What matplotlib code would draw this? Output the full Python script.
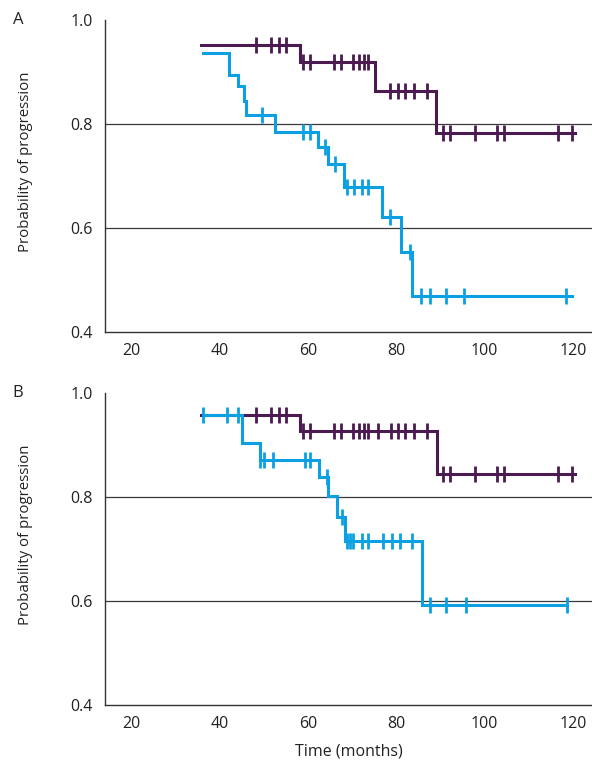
import matplotlib
matplotlib.use("Agg")
import matplotlib.pyplot as plt
import numpy as np

plt.rcParams['font.family'] = ['Open Sans', 'DejaVu Sans']

PURPLE = '#4a1a50'
BLUE = '#0aa0e2'
GRID = '#3a3a3a'

# Panel A - purple curve
a_purple_times = [35.9, 58.3, 75.1, 89.0]
a_purple_probs = [0.952, 0.920, 0.863, 0.782]
a_purple_censor = [48.3, 51.7, 53.4, 55.1, 59.0, 60.5, 66.0, 67.5, 70.3, 71.5, 72.6, 73.7,
                   78.6, 80.4, 82.0, 84.1, 86.9, 90.5, 92.2, 97.8, 102.7, 104.4, 116.5, 119.7]
a_purple_end = 120.5

# Panel A - blue curve
a_blue_times = [36.2, 42.1, 44.2, 45.5, 46.1, 52.6, 62.4, 64.5, 68.1, 76.7, 81.1, 83.5]
a_blue_probs = [0.936, 0.894, 0.874, 0.844, 0.817, 0.785, 0.756, 0.724, 0.679, 0.622, 0.553, 0.470]
a_blue_censor = [49.6, 59.0, 60.4, 63.9, 66.2, 68.8, 70.5, 72.2, 73.7, 78.6, 83.1,
                 85.6, 87.7, 91.2, 95.4, 118.4]
a_blue_end = 119.7

# Panel B - purple curve
b_purple_times = [35.9, 58.3, 89.2]
b_purple_probs = [0.958, 0.926, 0.844]
b_purple_censor = [48.3, 51.7, 53.4, 55.1, 59.0, 60.4, 66.0, 67.5, 70.3, 71.5, 72.6, 73.7,
                   75.8, 78.8, 80.3, 82.0, 84.1, 86.9, 90.5, 92.2, 97.8, 102.7, 104.4, 116.5, 119.7]
b_purple_end = 120.5

# Panel B - blue curve
b_blue_times = [36.2, 45.1, 49.2, 62.6, 64.5, 66.6, 68.5, 85.9]
b_blue_probs = [0.958, 0.903, 0.872, 0.838, 0.801, 0.761, 0.716, 0.593]
b_blue_censor = [36.2, 41.8, 44.1, 49.2, 50.1, 52.2, 59.4, 60.5, 64.3, 67.7,
                 68.8, 69.6, 70.3, 72.2, 73.7, 77.0, 79.0, 80.9, 83.5,
                 87.7, 91.2, 95.8, 118.7]
b_blue_end = 118.7

x_ticks = [20, 40, 60, 80, 100, 120]
y_ticks = [0.4, 0.6, 0.8, 1.0]
grid_levels = [0.6, 0.8]

FS = 11.5


def draw_km(ax, times, probs, censor, end, color):
    t = list(times) + [end]
    p = list(probs) + [probs[-1]]
    ax.step(t, p, where='post', color=color, lw=2.2, solid_joinstyle='miter')
    # censor marks sit on the curve level at that time
    idx = np.searchsorted(times, censor, side='right') - 1
    levels = np.array(probs)[np.clip(idx, 0, None)]
    ax.plot(censor, levels, ls='none', marker='|', ms=11, mew=2, color=color)


def style_axes(ax, label):
    ax.set_xlim(14.1, 124.3)
    ax.set_ylim(0.4, 1.0)
    for lvl in grid_levels:
        ax.axhline(lvl, color=GRID, lw=0.9, zorder=0)
    ax.set_xticks(x_ticks)
    ax.set_yticks(y_ticks)
    ax.set_yticklabels([f'{v:.1f}' for v in y_ticks])
    ax.tick_params(length=0, labelsize=FS, colors='#222222')
    ax.tick_params(axis='x', pad=8)
    ax.tick_params(axis='y', pad=9)
    ax.spines['top'].set_visible(False)
    ax.spines['right'].set_visible(False)
    for s in ['left', 'bottom']:
        ax.spines[s].set_color('#333333')
        ax.spines[s].set_linewidth(1.0)
    ax.set_ylabel('Probability of progression', fontsize=10.8, color='#222222')
    ax.yaxis.set_label_coords(-0.148, 0.545)
    ax.text(-0.179, 1.0, label, transform=ax.transAxes, fontsize=12,
            ha='center', va='center', color='#222222')


fig = plt.figure(figsize=(5.92, 7.64), dpi=100)
ax_a = fig.add_axes([0.1774, 0.5654, 0.8226, 0.4084])
ax_b = fig.add_axes([0.1774, 0.0772, 0.8226, 0.4084])

draw_km(ax_a, a_purple_times, a_purple_probs, a_purple_censor, a_purple_end, PURPLE)
draw_km(ax_a, a_blue_times, a_blue_probs, a_blue_censor, a_blue_end, BLUE)
draw_km(ax_b, b_purple_times, b_purple_probs, b_purple_censor, b_purple_end, PURPLE)
draw_km(ax_b, b_blue_times, b_blue_probs, b_blue_censor, b_blue_end, BLUE)

style_axes(ax_a, 'A')
style_axes(ax_b, 'B')
ax_b.set_xlabel('Time (months)', fontsize=FS, color='#222222', labelpad=8)

fig.savefig('out.png', dpi=100)
